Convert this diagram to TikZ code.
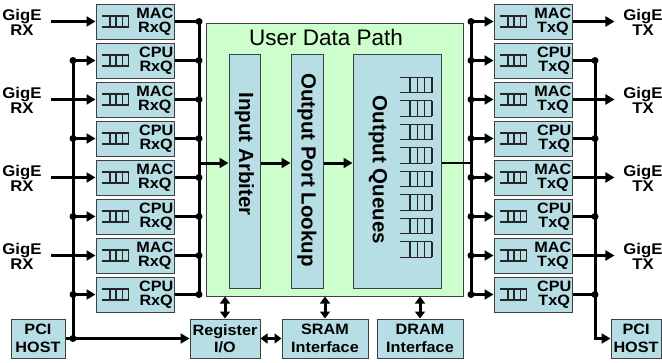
\documentclass[tikz,border=0pt]{standalone}
\usepackage{fontspec}
\setmainfont{Liberation Sans}
\newfontfamily\widesans{Liberation Sans}[FakeStretch=1.08]
\usepackage{tikz}
\usetikzlibrary{arrows.meta,positioning}

\definecolor{qblue}{RGB}{183,222,228}
\definecolor{pathgreen}{RGB}{204,255,204}

\tikzset{
  blk/.style={draw=black!75, line width=1pt, fill=qblue, inner sep=0pt},
  qbox/.style={blk, minimum width=78pt, minimum height=35pt},
  iobox/.style={blk, minimum height=39pt, align=center,
    font=\widesans\fontsize{15}{17.5}\selectfont\bfseries},
  qtxt/.style={inner sep=0pt, align=center, font=\widesans\fontsize{15}{13.5}\selectfont\bfseries},
  gige/.style={inner sep=0pt, outer xsep=9pt, align=center, font=\widesans\fontsize{15.5}{15}\selectfont\bfseries},
  vtxt/.style={rotate=-90, inner sep=0pt, font=\fontsize{20.5}{20.5}\selectfont\bfseries},
  fifoline/.style={draw=black!85, line width=1.4pt},
  pics/fifo/.style 2 args={code={
    \draw[fifoline] (0,{-#2/2}) -- ++(#1,0) (0,{#2/2}) -- ++(#1,0);
    \foreach \k in {0,1,2,3}
      \draw[fifoline] ({#1*(1-0.23*\k)},{-#2/2}) -- ++(0,#2);
  }}
}

\begin{document}
\begin{tikzpicture}[x=1pt,y=-1pt,
    bus/.style={line width=3pt},
    arr/.style={-{Triangle[length=9pt,width=10pt]}},
    dbl/.style={line width=3pt,{Triangle[length=7pt,width=10pt]}-{Triangle[length=7pt,width=10pt]}},
    dot/.style={circle, fill, inner sep=0pt, minimum size=7pt}]
  \useasboundingbox (0,0) rectangle (662,362);

  % user data path
  \node[draw=black!75, line width=1pt, fill=pathgreen, minimum width=257pt, minimum height=273pt] (udp) at (334.5,159.5) {};
  \node[font=\fontsize{22.5}{22.5}\selectfont] (udptitle) at (326,37) {User Data Path};
  \node[blk, minimum width=31pt, minimum height=234pt] (arb) at (244.5,171) {};
  \node[blk, minimum width=32pt, minimum height=234pt] (lookup) at (307,171) {};
  \node[blk, minimum width=88pt, minimum height=234pt] (oq) at (397,171) {};
  \node[vtxt] (arbtxt) at (244.5,154) {Input Arbiter};
  \node[vtxt] (lookuptxt) at (307,170) {Output Port Lookup};
  \node[vtxt] (oqtxt) at (378,170) {Output Queues};
  \foreach \k in {0,...,7}
    \pic at (400,{85+23.5*\k}) {fifo={32}{15.5}};

  % bus positions
  \coordinate (cpuL) at (73,0);
  \coordinate (inbus) at (199,0);
  \coordinate (outbus) at (471,0);
  \coordinate (cpuR) at (595,0);
  \coordinate (flow) at ([yshift=8pt]arb.west);

  % rx and tx queues
  \foreach \i/\kind in {0/MAC,1/CPU,2/MAC,3/CPU,4/MAC,5/CPU,6/MAC,7/CPU} {
    \node[qbox] (rx\i) at (135,{21.5+39*\i}) {};
    \pic at ([xshift=6pt]rx\i.west) {fifo={27}{11}};
    \node[qtxt, left=1pt of rx\i.east] (rxt\i) {\kind\\RxQ};
    \draw[bus] (rx\i.east) -- (rx\i.east -| inbus) node[dot]{};
    \node[qbox] (tx\i) at (533,{21.5+39*\i}) {};
    \pic at ([xshift=6pt]tx\i.west) {fifo={27}{11}};
    \node[qtxt, left=1pt of tx\i.east] (txt\i) {\kind\\TxQ};
    \draw[bus,arr] (tx\i.west -| outbus) node[dot]{} -- (tx\i.west);
  }
  \draw[bus] (rx0.east -| inbus) -- (rx7.east -| inbus);
  \draw[bus] (tx0.west -| outbus) -- (tx7.west -| outbus);

  % datapath flow
  \draw[bus,arr] (flow -| inbus) -- (flow);
  \draw[bus,arr] (arb.east |- flow) -- (lookup.west |- flow);
  \draw[bus,arr] (lookup.east |- flow) -- (oq.west |- flow);
  \draw[line width=1.2pt] (oq.east |- flow) -- (flow -| outbus);

  % gige ports
  \foreach \i in {0,2,4,6} {
    \node[gige] (rxl\i) at (22,{22.5+39*\i}) {GigE\\RX};
    \draw[bus,arr] (rxl\i.east |- rx\i) -- (rx\i);
    \node[gige] (txl\i) at (643,{22.5+39*\i}) {GigE\\TX};
    \draw[bus,arr] (tx\i) -- (txl\i.west |- tx\i);
  }

  % bottom row
  \node[iobox, minimum width=54pt] (pcil) at (38,338.5) {PCI\\HOST};
  \node[iobox, minimum width=70pt] (reg) at (225,338.5) {Register\\I/O};
  \node[iobox, minimum width=86pt] (sram) at (325,338.5) {SRAM\\Interface};
  \node[iobox, minimum width=86pt] (dram) at (420,338.5) {DRAM\\Interface};
  \node[iobox, minimum width=50pt] (pcir) at (636,338.5) {PCI\\HOST};

  % cpu path
  \foreach \i in {1,3,5,7} {
    \draw[bus,arr] (rx\i.west -| cpuL) node[dot]{} -- (rx\i.west);
    \draw[bus] (tx\i.east) -- (tx\i.east -| cpuR) node[dot]{};
  }
  \draw[bus] (rx1.west -| cpuL) -- (pcil.east -| cpuL) node[dot]{};
  \draw[bus,arr] (pcil.east) -- (reg.west);
  \draw[bus,arr] (tx1.east -| cpuR) -- (pcir.west -| cpuR) -- (pcir.west);

  \draw[dbl] (reg.north |- udp.south) -- (reg.north);
  \draw[dbl] (sram.north |- udp.south) -- (sram.north);
  \draw[dbl] (dram.north |- udp.south) -- (dram.north);
  \draw[dbl] (reg.east) -- (sram.west);
\end{tikzpicture}
\end{document}
